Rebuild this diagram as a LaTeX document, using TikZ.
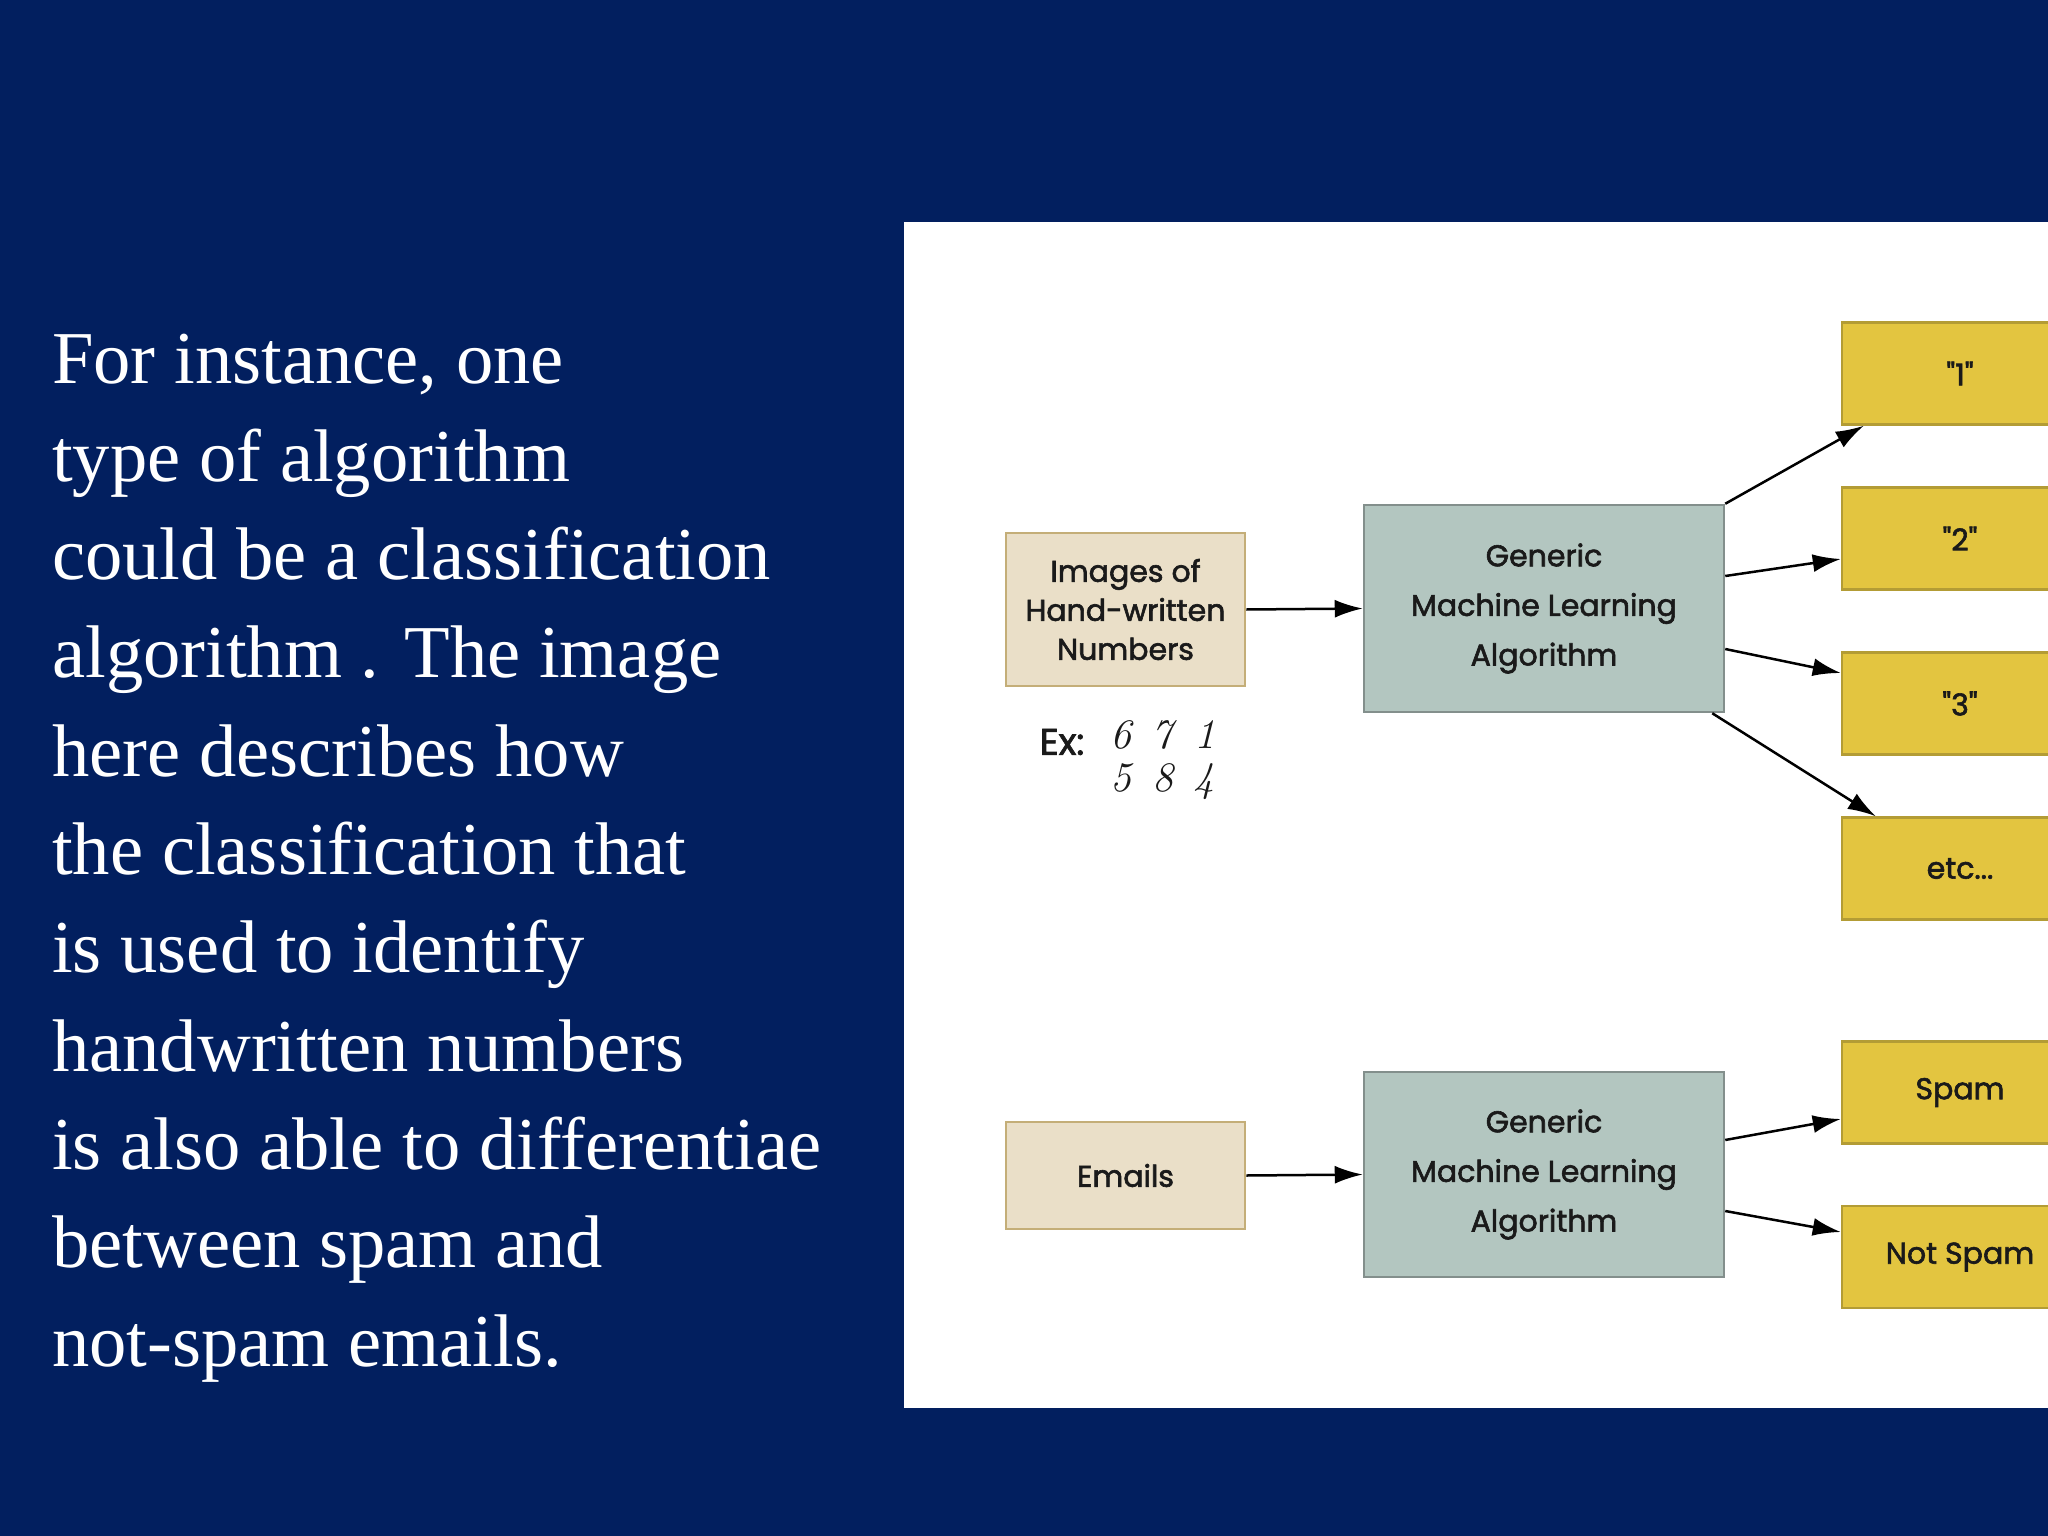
\documentclass[tikz,border=0pt]{standalone}
\usepackage{fontspec}
\usetikzlibrary{arrows.meta}
\newfontfamily\bodyserif{Liberation Serif}
\newfontfamily\diagfont{Poppins}[FakeBold=2]
\definecolor{navy}{HTML}{021F5F}
\definecolor{tanfill}{HTML}{EADFC8}
\definecolor{tanline}{HTML}{C4AE78}
\definecolor{greyfill}{HTML}{B3C6C0}
\definecolor{greyline}{HTML}{838F8C}
\definecolor{yelfill}{HTML}{E3C540}
\definecolor{yelline}{HTML}{B39C35}
\definecolor{inkdark}{HTML}{1A1A1A}
\tikzset{
  bodyline/.style={anchor=base west, inner sep=0pt, text=white, font=\bodyserif\fontsize{74.6}{80}\selectfont},
  boxbase/.style={draw, line width=2.5pt, inner sep=0pt, align=center, text=inkdark,
    font=\diagfont\fontsize{30}{39}\selectfont},
  tanbox/.style={boxbase, fill=tanfill, draw=tanline, minimum width=239pt},
  greybox/.style={boxbase, fill=greyfill, draw=greyline, minimum width=360pt,
    font=\diagfont\fontsize{30}{49.6}\selectfont},
  yelbox/.style={boxbase, fill=yelfill, draw=yelline, minimum width=236pt, minimum height=102pt},
  digits/.style={inner sep=0pt, align=left, text=inkdark, font=\itshape\fontsize{42}{43}\selectfont},
  flow/.style={line width=2.5pt, draw=black, -{Latex[length=28pt,width=18pt]}}
}
\begin{document}
\begin{tikzpicture}[x=1pt,y=-1pt]
\useasboundingbox (0,0) rectangle (2048,1536);
\clip (0,0) rectangle (2048,1536);
\fill[navy] (0,0) rectangle (2048,1536);
\fill[white] (904,222) rectangle (2048,1408);

% left text
\node[bodyline] (l1) at (52,383) {For instance, one};
\node[bodyline] (l2) at (52,481.3) {type of algorithm};
\node[bodyline] (l3) at (52,579.6) {could be a classification};
\node[bodyline] (l4) at (52,677.9) {algorithm . The image};
\node[bodyline] (l5) at (52,776.2) {here describes how};
\node[bodyline] (l6) at (52,874.5) {the classification that};
\node[bodyline] (l7) at (52,972.8) {is used to identify};
\node[bodyline] (l8) at (52,1071.1) {handwritten numbers};
\node[bodyline] (l9) at (52,1169.4) {is also able to differentiae};
\node[bodyline] (l10) at (52,1267.7) {between spam and};
\node[bodyline] (l11) at (52,1366) {not-spam emails.};

% top diagram
\node[tanbox, minimum height=153pt] (img) at (1125.5,609.5) {Images of\\Hand-written\\Numbers};
\node[greybox, minimum height=207pt] (g1) at (1544,608.5) {Generic\\Machine Learning\\Algorithm};
\node[yelbox] (y1) at (1960,373.5) {"1"};
\node[yelbox] (y2) at (1960,538.5) {"2"};
\node[yelbox] (y3) at (1960,703.5) {"3"};
\node[yelbox] (y4) at (1960,868.5) {etc...};

\node[inner sep=0pt, text=inkdark, font=\diagfont\fontsize{37}{37}\selectfont] (ex) at (1062,742) {Ex:};
\node[digits] (dg) at (1163,760) {6\hspace{20pt}7\hspace{22pt}1\\5\hspace{21pt}8\hspace{20pt}4};

\draw[flow] (img.east) -- (g1.west);
\draw[flow] (g1.north east) -- ([xshift=23pt]y1.south west);
\draw[flow] ([yshift=32.5pt]g1.east) -- ([yshift=-20.5pt]y2.west);
\draw[flow] ([yshift=-40.5pt]g1.east) -- ([yshift=30.5pt]y3.west);
\draw[flow] ([xshift=-13pt]g1.south east) -- ([xshift=35pt]y4.north west);

% bottom diagram
\node[tanbox, minimum height=107pt] (em) at (1125.5,1175.5) {Emails};
\node[greybox, minimum height=205pt] (g2) at (1544,1174.5) {Generic\\Machine Learning\\Algorithm};
\node[yelbox] (sp) at (1960,1092.5) {Spam};
\node[yelbox] (ns) at (1960,1257) {Not Spam};

\draw[flow] (em.east) -- (g2.west);
\draw[flow] ([yshift=34.5pt]g2.east) -- ([yshift=-26.5pt]sp.west);
\draw[flow] ([yshift=-36.5pt]g2.east) -- ([yshift=25pt]ns.west);
\end{tikzpicture}
\end{document}
